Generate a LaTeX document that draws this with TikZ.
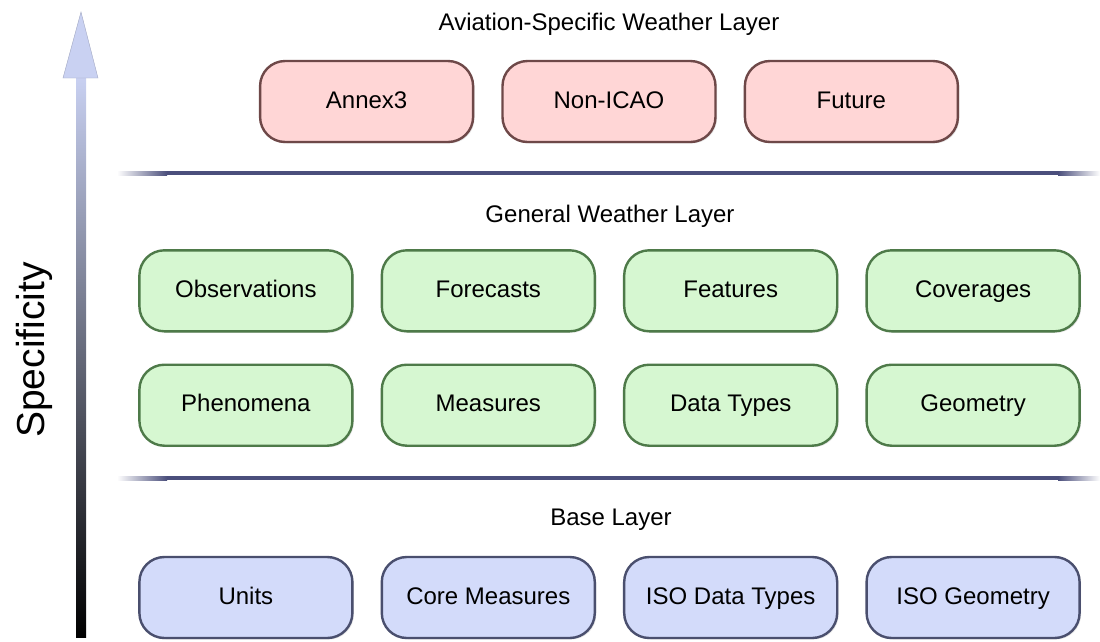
\documentclass[tikz,border=0pt]{standalone}
\usepackage{fontspec}
\setmainfont{Liberation Sans}
\usepackage{tikz}
\usetikzlibrary{matrix,shadows}

\definecolor{avfill}{HTML}{FFD6D6}
\definecolor{avline}{HTML}{6E4848}
\definecolor{genfill}{HTML}{D6F7D1}
\definecolor{genline}{HTML}{4E7A49}
\definecolor{basefill}{HTML}{D3DBFA}
\definecolor{baseline}{HTML}{4A4F6E}
\definecolor{sepline}{HTML}{4B4F7C}
\definecolor{arrowtop}{HTML}{C9D1F2}

\tikzset{
  layerbox/.style={rounded corners=25pt, line width=2.4pt, minimum width=213pt,
    minimum height=81pt, inner sep=0pt, text height=17pt, text depth=4pt,
    anchor=center, font=\fontsize{24}{28}\selectfont,
    drop shadow={opacity=0.2, shadow xshift=1.5pt, shadow yshift=-1.5pt}},
  layertitle/.style={anchor=base, font=\fontsize{24}{28}\selectfont},
  layers/.style={matrix of nodes, column sep=27pt, row sep=31pt, inner sep=0pt}
}

\begin{document}
\begin{tikzpicture}[x=1pt, y=-1pt]
\useasboundingbox (0,0) rectangle (1100,641);

% specificity arrow
\shade[top color=arrowtop, bottom color=black] (76,76) rectangle (86,637);
\fill[arrowtop, draw=arrowtop!80!black, line width=0.4pt] (63,78) -- (81,12) -- (98,78) -- cycle;
\node (spec) [rotate=90, anchor=base, font=\fontsize{39}{44}\selectfont] at (44,350) {Specificity};

% separators
\shade[left color=white, right color=sepline] (117,171) rectangle (167,175);
\fill[sepline] (167,171) rectangle (1058,175);
\shade[left color=sepline, right color=white] (1058,171) rectangle (1100,175);
\shade[left color=white, right color=sepline] (117,476) rectangle (167,480);
\fill[sepline] (167,476) rectangle (1058,480);
\shade[left color=sepline, right color=white] (1058,476) rectangle (1100,480);

% layer titles
\node (avtitle) [layertitle] at (609,30) {Aviation-Specific Weather Layer};
\node (gentitle) [layertitle] at (610,222) {General Weather Layer};
\node (basetitle) [layertitle] at (611,525) {Base Layer};

% layers
\matrix (av) at (609,101.5) [layers, nodes={layerbox, fill=avfill, draw=avline}]
{
Annex3 & Non-ICAO & Future \\
};
\matrix (gen) at (609.5,348) [layers, nodes={layerbox, fill=genfill, draw=genline}]
{
Observations & Forecasts & Features & Coverages \\
Phenomena & Measures & Data Types & Geometry \\
};
\matrix (base) at (609.5,597.5) [layers, nodes={layerbox, fill=basefill, draw=baseline}]
{
Units & Core Measures & ISO Data Types & ISO Geometry \\
};
\end{tikzpicture}
\end{document}
